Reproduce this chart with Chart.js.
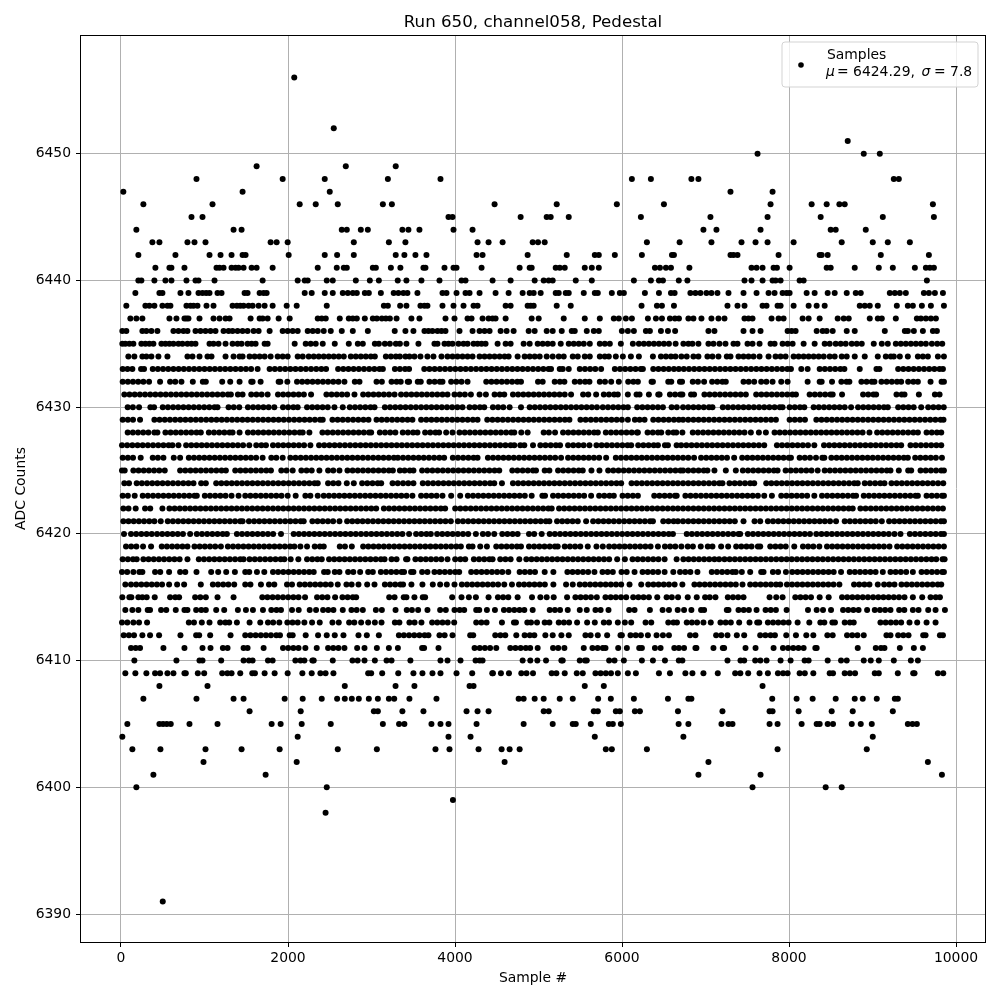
<!DOCTYPE html>
<html><head><meta charset="utf-8">
<style>html,body{margin:0;padding:0;background:#fff}canvas{display:block}</style>
<script src="https://cdn.jsdelivr.net/npm/chart.js@4"></script>
</head><body><canvas id="c" width="1000" height="1000"></canvas>
<script>
const xTicks=[0,2000,4000,6000,8000,10000];
const yTicks=[6390,6400,6410,6420,6430,6440,6450];
const r6456=[2075];
const r6452=[2548];
const r6451=[8703];
const r6450=[7623,8895,9087];
const r6449=[1624,2692,3290];
const r6448=[904,1936,2440,3196,3826,6118,6346,6831,6915,9255,9315];
const r6447=[28,1456,2500,7299,7803];
const r6446=[268,1096,2140,2332,2596,3136,3244,4474,5218,5938,6502,7779,8271,8451,8603,8667,9723];
const r6445=[844,976,3922,3970,4786,5098,5146,5362,6226,7059,7743,8379,9123,9735];
const r6444=[184,1348,1444,2644,2704,2872,2956,3370,3442,3574,3982,4210,6975,7131,7659,8499,8559,8919];
const r6443=[376,460,796,880,1012,1792,1864,1996,2788,3208,3406,4270,4402,4570,4930,4994,5074,6298,6690,7071,7431,7599,7743,8055,8631,9003,9183,9447];
const r6442=[208,652,1060,1192,1324,1456,1492,2008,2440,2588,2788,3290,3394,3526,3658,4258,4330,4870,5338,5674,5722,5914,6238,6598,6622,7299,7335,7383,7875,8367,8391,8463,9099,9675];
const r6441=[412,580,604,760,1144,1180,1228,1324,1372,1408,1468,1564,1624,1816,2356,2584,2668,2704,3016,3052,3232,3346,3622,3646,3874,3982,4018,4318,4774,4894,4918,5206,5254,5314,5554,5638,5722,6394,6454,6526,6586,6807,7551,7611,7683,7815,7855,8007,8451,8499,8787,9075,9243,9507,9639,9687,9735];
const r6440=[208,244,400,532,604,784,892,928,1120,1696,2116,2200,2236,2464,2536,2812,2980,3088,3314,3418,3598,3814,4078,4126,4450,4666,4954,5062,5122,5170,5446,5638,6142,6346,6442,6490,6680,6783,7467,7551,7683,7803,7839,7899,8127,8175,9651];
const r6439=[172,460,496,712,808,928,976,1020,1060,1156,1204,1480,1516,1660,1708,1744,2200,2284,2440,2536,2656,2716,2776,2824,2920,2968,3112,3266,3322,3382,3430,3550,3850,3898,4018,4126,4174,4294,4486,4642,4810,4894,4942,5026,5206,5242,5326,5362,5542,5674,5710,5878,5974,6022,6274,6442,6586,6630,6819,6879,6939,7011,7071,7143,7275,7455,7611,7755,7827,7923,7971,8007,8211,8307,8463,8547,8691,8799,8859,9207,9267,9327,9399,9615,9675,9747,9843];
const r6438=[64,292,340,400,496,556,592,784,832,868,916,1024,1108,1336,1388,1428,1468,1528,1576,1648,1720,1816,1984,2104,2464,3148,3196,3343,3418,3586,3634,3670,3850,3982,4102,4222,4270,4606,4666,4870,4906,4942,5218,5386,6234,6418,6478,6622,7263,7383,7467,7683,7731,7863,7899,8055,8235,8331,8427,8847,8907,8967,9063,9291,9423,9483,9591,9699,9855];
const r6437=[112,184,256,580,664,760,784,808,940,1108,1180,1252,1300,1552,1660,1696,1756,1888,2020,2356,2404,2452,2620,2728,2776,2824,2920,3016,3064,3124,3172,3220,3300,3478,3574,3886,3994,4150,4198,4330,4402,4450,4486,4606,4918,5002,5302,5554,5734,5902,5962,6046,6118,6310,6406,6478,6574,6634,6682,6795,6855,6951,7071,7155,7227,7467,7515,7563,7791,7875,7935,8163,8235,8367,8583,8655,8715,8967,9063,9111,9279,9531,9579,9639,9699,9759];
const r6436=[16,64,256,304,364,436,628,688,748,796,892,952,1012,1072,1132,1228,1288,1336,1396,1456,1516,1588,1648,1780,1936,1996,2056,2116,2236,2296,2356,2428,2512,2644,2776,2956,3278,3406,3502,3634,3682,3730,3790,3838,3886,4054,4210,4294,4354,4414,4546,4618,4702,4882,4954,5098,5170,5278,5398,5434,5578,5662,5722,5998,6070,6142,6286,6334,6466,6550,6636,7035,7107,7455,7563,7659,7983,8031,8079,8331,8403,8451,8523,8691,8787,9147,9387,9423,9495,9603,9723,9771];
const r6435=[16,52,100,148,244,292,340,388,484,532,580,628,688,736,796,844,892,1060,1108,1168,1252,1336,1396,1444,1516,1564,1612,1720,1756,2080,2212,2272,2332,2416,2560,2728,2836,2896,3040,3088,3160,3220,3292,3340,3418,3562,3754,3790,3874,3922,3970,4042,4102,4150,4222,4270,4318,4366,4510,4606,4666,4822,4894,4990,5050,5110,5170,5266,5362,5422,5482,5542,5614,5734,5794,5854,5986,6130,6202,6262,6322,6382,6442,6502,6562,6642,6735,6795,6843,6915,7035,7095,7167,7239,7335,7383,7503,7563,7647,7779,7827,7923,7983,8043,8175,8307,8427,8487,8559,8619,8679,8751,8811,8871,9015,9111,9183,9279,9339,9399,9459,9519,9579,9639,9711,9775,9835];
const r6434=[88,160,256,304,364,448,556,796,856,940,1036,1084,1252,1348,1420,1456,1540,1600,1660,1720,1792,1876,1936,1996,2116,2176,2248,2308,2368,2428,2488,2548,2608,2668,2752,2812,2872,2932,2992,3040,3172,3232,3292,3340,3406,3454,3514,3586,3670,3742,3838,3910,3970,4030,4090,4150,4210,4294,4354,4414,4474,4534,4594,4642,4750,4834,4894,4954,5014,5098,5170,5242,5302,5410,5470,5554,5614,5734,5794,5842,5926,6010,6106,6202,6370,6466,6526,6586,6640,6711,6775,6855,6915,7023,7083,7155,7255,7299,7395,7455,7515,7575,7647,7755,7839,7899,7959,8055,8115,8175,8235,8295,8355,8415,8487,8547,8631,8691,8787,8907,9063,9159,9219,9255,9327,9423,9543,9603,9663,9783,9855];
const r6433=[20,78,136,240,276,380,442,504,566,628,690,752,814,876,938,1000,1062,1124,1186,1248,1310,1372,1434,1496,1558,1636,1780,1842,1904,1966,2028,2090,2152,2214,2276,2338,2400,2456,2600,2662,2724,2786,2848,2910,2972,3034,3096,3136,3280,3340,3402,3450,3632,3694,3756,3818,3880,3942,4004,4066,4128,4190,4252,4314,4376,4438,4500,4562,4624,4686,4748,4810,4872,4934,4996,5058,5120,5150,5254,5290,5362,5494,5556,5618,5680,5750,5914,5976,6038,6100,6162,6224,6250,6374,6436,6498,6560,6622,6680,6740,6802,6864,6926,6988,7050,7112,7174,7236,7298,7360,7422,7484,7546,7608,7670,7732,7794,7856,7918,7980,8023,8147,8223,8367,8429,8491,8553,8615,8663,8847,9047,9083,9307,9369,9431,9493,9555,9617,9679,9741,9803,9843];
const r6432=[20,82,144,206,268,336,468,588,650,724,860,980,1016,1212,1308,1420,1560,1576,1672,1888,1908,1992,2108,2170,2232,2294,2356,2418,2480,2542,2604,2676,2800,2856,3060,3124,3240,3300,3350,3434,3450,3554,3590,3694,3756,3818,3850,3954,4016,4078,4150,4374,4436,4498,4560,4622,4684,4746,4790,4994,5050,5194,5256,5310,5434,5496,5558,5610,5734,5796,5870,5962,6074,6136,6190,6354,6370,6554,6590,6694,6719,6847,6909,6983,7079,7141,7203,7243,7455,7517,7583,7667,7729,7803,7907,7983,8223,8367,8391,8515,8627,8689,8723,8867,8929,8991,9023,9107,9169,9231,9293,9343,9427,9489,9543,9695,9827,9855];
const r6431=[40,102,164,226,288,350,412,474,536,598,660,722,784,846,908,970,1032,1094,1156,1218,1280,1316,1400,1456,1560,1622,1684,1756,1880,1942,2004,2066,2128,2190,2276,2460,2522,2584,2646,2708,2796,2900,2962,3024,3086,3148,3210,3276,3354,3416,3478,3540,3602,3664,3726,3788,3850,3910,3994,4056,4118,4190,4294,4370,4474,4536,4590,4694,4756,4818,4880,4942,5004,5066,5128,5190,5252,5314,5390,5534,5596,5690,5782,5844,5906,5950,6070,6174,6210,6322,6434,6450,6574,6636,6698,6723,6827,6863,6987,7049,7111,7173,7235,7297,7359,7421,7483,7607,7669,7731,7793,7855,7917,7979,8041,8083,8247,8309,8371,8433,8495,8523,8635,8887,8949,9011,9043,9287,9349,9383,9555,9747,9803];
const r6430=[80,142,216,352,396,500,562,624,686,748,810,872,934,996,1058,1120,1156,1288,1350,1416,1520,1582,1644,1706,1768,1836,1940,2002,2064,2116,2228,2290,2352,2414,2476,2556,2656,2740,2802,2864,2926,2988,3036,3160,3222,3284,3346,3408,3470,3532,3594,3656,3718,3780,3842,3904,3966,4028,4090,4174,4236,4298,4350,4454,4516,4578,4654,4790,4894,4956,5018,5080,5142,5204,5266,5328,5390,5452,5514,5576,5638,5700,5770,5832,5894,5956,6018,6070,6182,6244,6306,6368,6430,6490,6594,6656,6731,6793,6855,6917,6979,7041,7083,7207,7269,7331,7393,7455,7517,7579,7641,7703,7765,7827,7889,7923,8007,8069,8131,8183,8295,8357,8419,8481,8543,8605,8667,8743,8827,8889,8951,9013,9075,9137,9183,9307,9369,9431,9493,9583,9667,9729,9791,9853];
const r6429=[20,82,144,228,400,462,524,586,648,710,772,834,896,958,1020,1082,1144,1206,1268,1330,1392,1454,1516,1578,1640,1702,1764,1826,1888,1950,2012,2074,2136,2198,2260,2322,2384,2416,2532,2594,2656,2718,2780,2842,2904,2964,3060,3122,3184,3246,3308,3370,3432,3490,3594,3656,3718,3780,3842,3904,3966,4028,4090,4152,4214,4270,4386,4448,4510,4572,4634,4696,4758,4820,4882,4944,5006,5068,5130,5192,5254,5316,5370,5502,5564,5626,5688,5750,5812,5874,5936,5998,6070,6154,6210,6270,6374,6436,6498,6560,6622,6680,6731,6793,6855,6917,6979,7041,7103,7165,7227,7289,7351,7413,7475,7537,7599,7661,7723,7785,7843,8007,8069,8131,8191,8327,8389,8451,8513,8575,8637,8699,8761,8823,8885,8947,9009,9071,9133,9195,9257,9319,9381,9443,9505,9567,9629,9691,9753,9815,9850];
const r6428=[80,142,204,266,328,400,436,532,594,656,718,780,842,904,956,1052,1114,1176,1238,1300,1336,1420,1520,1582,1644,1706,1768,1830,1892,1954,2016,2078,2140,2176,2256,2412,2474,2536,2598,2660,2722,2784,2846,2908,2970,2996,3100,3162,3224,3286,3374,3436,3498,3550,3642,3704,3766,3810,3894,3970,4054,4116,4178,4240,4302,4364,4426,4488,4550,4612,4674,4710,4794,4870,5062,5124,5198,5294,5356,5418,5480,5542,5604,5666,5710,5806,5868,5930,5992,6054,6116,6178,6190,6306,6368,6430,6470,6554,6616,6650,6723,6847,6909,6971,7033,7095,7157,7219,7281,7343,7405,7467,7543,7639,7723,7827,7889,7951,8013,8075,8137,8199,8261,8323,8385,8447,8509,8571,8633,8695,8757,8819,8881,8963,9055,9117,9179,9241,9303,9365,9427,9489,9543,9647,9709,9771,9823];
const r6427=[12,74,136,198,260,322,384,446,508,570,616,688,780,842,904,966,1028,1090,1152,1214,1276,1338,1400,1462,1536,1620,1682,1736,1820,1882,1944,2006,2068,2130,2192,2268,2372,2434,2496,2558,2620,2682,2744,2806,2868,2930,2992,3054,3116,3178,3240,3302,3364,3426,3488,3550,3612,3674,3736,3798,3860,3922,3984,4046,4108,4170,4232,4294,4356,4418,4480,4542,4604,4666,4710,4782,4830,4934,5022,5084,5146,5208,5258,5354,5416,5478,5540,5610,5694,5756,5818,5880,5942,6004,6066,6110,6194,6256,6318,6380,6430,6514,6550,6654,6709,6771,6833,6895,6957,7019,7081,7143,7205,7267,7329,7391,7453,7515,7577,7639,7703,7855,7917,7979,8041,8103,8165,8227,8303,8419,8481,8543,8605,8667,8729,8791,8853,8915,8977,9039,9101,9163,9225,9287,9343,9455,9517,9579,9641,9703,9765,9823];
const r6426=[20,82,144,236,380,442,508,632,708,812,874,936,998,1060,1122,1184,1246,1308,1370,1432,1494,1556,1618,1696,1800,1860,1936,2028,2090,2152,2214,2276,2338,2400,2462,2524,2586,2648,2710,2772,2834,2896,2958,3020,3082,3144,3206,3268,3316,3378,3440,3502,3564,3626,3688,3750,3812,3870,3974,4036,4098,4160,4222,4270,4394,4456,4518,4580,4642,4704,4766,4828,4890,4952,5014,5076,5138,5200,5270,5354,5416,5478,5540,5602,5664,5726,5810,5926,5988,6050,6112,6174,6236,6298,6360,6422,6484,6546,6608,6669,6731,6793,6863,6947,7009,7071,7133,7195,7257,7343,7439,7501,7563,7625,7687,7749,7811,7873,7935,7997,8023,8127,8189,8251,8323,8399,8423,8507,8569,8631,8693,8755,8817,8879,8941,9003,9065,9127,9189,9251,9313,9375,9423,9511,9573,9635,9697,9759,9831];
const r6425=[12,44,148,210,272,334,396,458,524,708,770,832,894,956,1018,1080,1142,1204,1256,1368,1430,1492,1554,1616,1678,1740,1796,1920,1982,2056,2160,2222,2284,2376,2480,2542,2616,2712,2774,2836,2898,2960,3022,3084,3146,3208,3256,3340,3396,3458,3502,3606,3668,3730,3792,3854,3916,3978,4040,4102,4164,4226,4288,4350,4412,4474,4530,4686,4748,4810,4872,4934,4970,5074,5130,5234,5296,5358,5420,5482,5530,5634,5730,5834,5896,5958,6020,6082,6144,6206,6268,6330,6392,6454,6516,6578,6640,6700,6731,6793,6855,6917,6979,7023,7107,7243,7363,7447,7509,7571,7633,7695,7757,7819,7863,7959,8021,8083,8145,8207,8269,8343,8427,8489,8551,8613,8675,8737,8799,8861,8923,8985,9047,9109,9171,9215,9315,9427,9463,9575,9637,9699,9761,9823,9855];
const r6424=[40,96,188,250,312,374,436,498,560,622,684,746,808,868,960,1016,1140,1202,1264,1326,1388,1450,1512,1574,1636,1698,1760,1822,1884,1946,2008,2070,2132,2194,2256,2318,2356,2480,2542,2604,2704,2788,2888,2950,3012,3074,3116,3252,3314,3378,3440,3502,3614,3676,3738,3800,3862,3924,3986,4048,4110,4172,4234,4296,4358,4420,4470,4562,4694,4756,4818,4880,4942,5004,5066,5128,5190,5252,5314,5376,5438,5500,5562,5624,5686,5748,5810,5872,5934,5990,6114,6176,6238,6300,6362,6424,6486,6548,6610,6669,6731,6793,6855,6917,6979,7041,7103,7165,7203,7287,7349,7411,7473,7535,7583,7727,7789,7851,7913,7975,8037,8099,8161,8223,8285,8347,8409,8471,8533,8595,8657,8719,8781,8823,8907,8969,9031,9093,9143,9227,9289,9351,9413,9475,9537,9599,9661,9723,9785,9847];
const r6423=[20,82,164,260,322,384,446,508,570,632,694,756,818,880,908,1004,1066,1128,1190,1252,1324,1408,1488,1550,1612,1674,1736,1798,1860,1922,1996,2092,2208,2268,2356,2428,2490,2552,2614,2676,2738,2800,2862,2924,2986,3048,3110,3172,3234,3296,3358,3420,3490,3594,3656,3718,3780,3850,3954,4062,4154,4216,4278,4340,4402,4464,4526,4588,4650,4712,4774,4836,4918,5046,5078,5174,5236,5298,5360,5422,5484,5546,5630,5726,5788,5850,5902,6006,6068,6130,6190,6386,6448,6510,6572,6634,6655,6759,6821,6883,6945,7007,7069,7131,7193,7255,7317,7379,7441,7503,7565,7627,7703,7795,7907,7969,8031,8093,8155,8217,8303,8395,8457,8519,8581,8643,8705,8767,8803,8895,8957,9019,9081,9143,9205,9267,9329,9391,9453,9515,9543,9647,9709,9771,9833,9855];
const r6422=[28,90,176,288,350,496,580,642,704,766,828,890,952,1014,1076,1138,1200,1262,1324,1386,1448,1510,1572,1634,1696,1758,1820,1882,1944,2006,2068,2130,2192,2254,2316,2378,2440,2502,2564,2626,2688,2750,2812,2874,2936,2998,3056,3148,3210,3272,3334,3396,3458,3520,3582,3644,3706,3768,3830,3882,4002,4064,4126,4188,4250,4312,4374,4436,4498,4560,4622,4684,4746,4808,4870,4932,4994,5056,5118,5158,5246,5308,5370,5432,5494,5556,5618,5680,5742,5804,5866,5928,5990,6052,6114,6176,6238,6300,6362,6424,6486,6548,6610,6669,6731,6793,6855,6917,6979,7041,7103,7165,7227,7289,7351,7413,7475,7537,7599,7661,7723,7785,7847,7909,7971,8033,8095,8157,8219,8281,8343,8405,8467,8529,8591,8653,8715,8763,8855,8917,8979,9041,9103,9165,9227,9289,9351,9413,9475,9537,9599,9661,9723,9785,9843];
const r6421=[28,90,152,214,276,338,400,476,560,622,684,746,808,870,932,994,1056,1118,1180,1242,1304,1366,1428,1456,1532,1594,1656,1718,1780,1842,1904,1966,2028,2090,2152,2188,2292,2354,2416,2478,2540,2616,2708,2770,2832,2894,2956,3018,3080,3142,3204,3266,3328,3390,3452,3514,3576,3638,3700,3762,3824,3886,3950,4034,4096,4158,4220,4282,4344,4406,4468,4530,4592,4654,4716,4778,4840,4902,4964,5026,5088,5130,5222,5284,5346,5408,5470,5570,5654,5716,5778,5840,5902,5964,6026,6088,6150,6212,6274,6336,6370,6494,6556,6618,6669,6731,6793,6855,6917,6979,7041,7103,7165,7227,7289,7351,7455,7587,7655,7747,7809,7871,7933,7995,8057,8119,8181,8243,8305,8367,8429,8491,8563,8667,8729,8791,8853,8915,8977,9039,9111,9199,9261,9323,9385,9447,9509,9571,9633,9695,9757,9819,9855];
const r6420=[36,120,182,244,306,368,432,494,556,618,680,742,828,908,970,1032,1094,1156,1218,1268,1388,1450,1512,1574,1636,1698,1760,1822,1916,2068,2130,2192,2254,2316,2378,2440,2502,2564,2626,2688,2750,2812,2874,2936,2998,3060,3122,3184,3246,3308,3370,3450,3534,3596,3658,3710,3786,3848,3910,3972,4034,4096,4158,4250,4334,4396,4470,4566,4628,4690,4750,4886,4948,5038,5134,5196,5258,5320,5382,5444,5506,5568,5630,5692,5754,5816,5878,5940,6002,6064,6126,6188,6250,6312,6374,6436,6498,6560,6610,6775,6837,6899,6961,7023,7085,7147,7209,7271,7333,7395,7415,7507,7569,7631,7693,7755,7817,7879,7941,8003,8065,8127,8189,8251,8327,8389,8451,8513,8575,8637,8699,8761,8823,8885,8947,9009,9071,9133,9195,9263,9335,9447,9509,9571,9633,9695,9757,9819,9855];
const r6419=[60,122,184,264,360,488,550,612,674,736,796,880,942,1004,1066,1128,1196,1280,1342,1404,1466,1528,1590,1652,1714,1776,1838,1900,1962,2024,2076,2148,2228,2320,2382,2428,2620,2682,2764,2900,2962,3024,3086,3148,3210,3272,3334,3396,3458,3520,3582,3644,3706,3768,3830,3892,3954,4016,4070,4166,4210,4302,4382,4494,4556,4618,4680,4742,4790,4886,4948,5010,5072,5134,5196,5230,5314,5376,5438,5500,5590,5694,5770,5846,5908,5970,6032,6094,6156,6218,6280,6342,6430,6514,6576,6638,6711,6787,6849,6943,7027,7083,7187,7271,7367,7429,7491,7551,7627,7655,7775,7837,7899,7961,8063,8167,8229,8291,8363,8455,8517,8579,8641,8703,8765,8827,8889,8951,9013,9075,9137,9203,9295,9357,9419,9481,9543,9605,9667,9729,9791,9855];
const r6418=[20,82,144,188,268,330,392,454,516,578,640,702,796,932,994,1056,1118,1180,1242,1304,1366,1428,1468,1540,1602,1664,1726,1788,1850,1912,1956,2032,2124,2228,2290,2352,2404,2492,2554,2616,2678,2740,2802,2864,2926,2988,3050,3112,3156,3240,3300,3414,3430,3526,3588,3650,3712,3774,3836,3910,4002,4064,4122,4226,4288,4350,4412,4450,4542,4604,4666,4770,4854,4916,4978,5040,5102,5164,5226,5288,5350,5412,5474,5536,5598,5660,5722,5784,5846,5942,6034,6126,6188,6250,6312,6374,6436,6510,6654,6735,6797,6859,6921,6983,7045,7107,7163,7227,7289,7351,7413,7475,7537,7599,7661,7723,7785,7847,7909,7971,8033,8095,8157,8219,8281,8343,8405,8467,8529,8591,8653,8715,8777,8839,8901,8963,9025,9087,9149,9211,9273,9335,9397,9459,9521,9583,9645,9707,9763,9839,9863];
const r6417=[12,74,148,220,256,408,470,576,708,770,904,1080,1164,1260,1364,1488,1536,1628,1716,1820,1882,1944,2006,2068,2130,2192,2254,2308,2432,2476,2560,2616,2720,2782,2864,2960,3016,3112,3174,3236,3298,3360,3390,3474,3502,3606,3670,3754,3816,3878,3940,4002,4050,4194,4256,4318,4380,4442,4504,4566,4638,4774,4836,4898,4958,5074,5178,5346,5408,5470,5532,5594,5670,5766,5828,5890,5994,6056,6150,6246,6308,6370,6432,6510,6614,6695,6757,6819,6903,7075,7137,7199,7261,7323,7363,7435,7535,7667,7695,7807,7869,7963,8039,8101,8163,8225,8287,8349,8411,8473,8535,8623,8727,8789,8851,8913,8975,9037,9123,9215,9277,9339,9403,9483,9587,9649,9711,9773,9835,9855];
const r6416=[52,120,182,244,306,368,430,492,576,672,756,956,1100,1162,1224,1286,1356,1488,1550,1676,1772,1836,1988,2048,2140,2202,2264,2326,2388,2450,2512,2596,2700,2762,2844,2948,3036,3160,3222,3284,3346,3378,3478,3610,3734,3822,3902,3994,4082,4144,4206,4268,4330,4392,4454,4516,4590,4682,4766,4828,4890,4952,5014,5076,5178,5330,5410,5494,5556,5618,5680,5742,5804,5866,5928,5990,6090,6230,6314,6376,6438,6500,6562,6630,6723,6867,6929,6991,7053,7115,7177,7239,7301,7363,7443,7535,7597,7659,7721,7783,7845,7895,7975,8037,8099,8161,8223,8285,8347,8409,8471,8533,8603,8779,8841,8903,8963,9063,9139,9201,9263,9347,9409,9471,9533,9595,9657,9719,9781,9823];
const r6415=[16,100,124,208,256,308,404,588,650,696,888,950,1016,1156,1348,1692,1754,1816,1878,1940,2002,2064,2126,2204,2348,2410,2472,2564,2652,2714,2776,2816,3212,3276,3386,3418,3514,3614,3642,3966,4078,4166,4250,4402,4514,4576,4638,4750,4922,5022,5098,5182,5342,5442,5504,5566,5628,5698,5802,5864,5926,5988,6050,6134,6196,6258,6322,6422,6534,6596,6671,6787,6895,6995,7051,7119,7267,7329,7391,7455,7767,7847,7923,8075,8137,8199,8263,8367,8475,8635,8697,8759,8821,8883,8945,9007,9069,9131,9193,9255,9317,9383,9483,9595,9695,9757,9807];
const r6414=[52,136,208,320,348,480,542,656,760,796,900,962,1016,1140,1236,1400,1496,1580,1700,1800,1862,1916,2048,2128,2260,2336,2420,2482,2544,2656,2760,2822,2896,3052,3124,3288,3422,3484,3558,3670,3822,3890,3994,4056,4110,4254,4290,4382,4478,4586,4648,4710,4772,4830,4930,5134,5196,5258,5350,5494,5578,5682,5744,5838,6086,6150,6334,6486,6562,6667,6743,6831,6947,6983,7255,7275,7395,7457,7519,7611,7719,7781,7843,7971,8227,8331,8407,8503,8647,8709,8771,8833,8935,9027,9089,9151,9215,9319,9381,9483,9551,9667,9755,9867];
const r6413=[12,76,148,216,312,812,874,968,1060,1188,1250,1296,1388,1540,1668,1760,1822,1896,1992,2054,2116,2196,2288,2380,2532,2608,2732,2794,2876,2960,3040,3120,3280,3334,3454,3516,3598,3726,3788,3850,3912,3990,4254,4316,4378,4562,4706,4730,4866,4910,4982,5074,5130,5242,5304,5366,5462,5582,5674,5782,5844,5950,6034,6110,6282,6350,6554,6616,6658,6775,6837,6899,6975,7063,7179,7241,7303,7403,7527,7619,7643,7747,7809,7871,7933,7995,8103,8243,8375,8423,8519,8550,8667,8729,8775,9095,9157,9219,9281,9343,9443,9535,9647,9755];
const r6412=[32,94,156,256,348,456,712,900,936,1068,1312,1488,1550,1612,1674,1736,1796,1860,1904,2020,2056,2212,2360,2464,2560,2664,2844,2944,3088,3328,3388,3450,3512,3574,3636,3682,3814,3876,3970,4182,4218,4482,4544,4602,4734,4834,4896,4950,5082,5170,5274,5362,5562,5624,5710,5822,5982,5998,6102,6164,6226,6310,6414,6490,6562,6815,6879,7127,7189,7263,7375,7463,7655,7717,7779,7831,7967,8083,8207,8291,8459,8523,8695,8757,8819,8895,9167,9215,9307,9369,9431,9607,9635,9807,9843];
const r6411=[120,176,228,508,760,976,1072,1220,1276,1468,1516,1708,1940,2002,2064,2126,2208,2344,2480,2542,2604,2676,2828,2916,3064,3208,3316,3606,3630,3802,4234,4296,4358,4420,4494,4662,4724,4786,4848,4900,4990,5174,5236,5310,5542,5646,5708,5770,5802,5954,6058,6206,6238,6394,6462,6626,6681,6743,6879,6891,7095,7207,7223,7479,7599,7815,7927,7989,8051,8113,8175,8315,8331,8823,9039,9101,9143,9327,9495,9603];
const r6410=[160,664,940,976,1200,1468,1532,1576,1760,1816,2088,2150,2196,2292,2308,2536,2772,2834,2916,3040,3180,3240,3466,3826,3910,4066,4246,4296,4330,4810,4902,4986,5090,5274,5290,5494,5556,5578,5846,5910,6022,6238,6370,6514,6680,6723,7263,7419,7463,7595,7657,7731,7899,8019,8187,8235,8463,8623,8691,8895,8979,9075,9255,9459,9543];
const r6409=[52,172,304,408,468,556,628,760,776,920,996,1212,1274,1324,1428,1572,1604,1720,1840,1996,2172,2284,2388,2450,2544,2960,2996,3128,3320,3502,3610,3730,3826,4018,4206,4446,4454,4550,4646,4794,4856,4934,5158,5214,5314,5458,5530,5682,5744,5806,5868,5950,6070,6166,6442,6574,6759,6843,6975,7147,7355,7417,7511,7647,7747,7867,7929,7983,8127,8189,8291,8487,8527,8667,8729,8791,9027,9075,9303,9487,9503,9783,9847];
const r6408=[460,1036,2680,3288,3514,4174,4222,5554,5782,7683];
const r6407=[268,904,1348,1468,1960,2176,2404,2588,2680,2764,2848,2968,3076,3208,3272,3454,3778,4762,4822,4954,5062,5254,5410,5714,5866,6142,6550,6795,6831,7799,8091,8283,8559,8787,8883,9051,9267,9303];
const r6406=[1540,2152,3028,3076,3370,3622,4138,4270,4402,5062,5122,5662,5710,5926,5974,6154,6214,6670,7203,7767,7803,8115,8511,8763,9243];
const r6405=[76,460,504,548,596,820,1156,1804,1912,2164,2512,3136,3330,3394,3718,3826,3922,4258,4822,5170,5410,5446,5626,5842,5890,5986,6678,6795,7191,7275,7323,7767,7863,8151,8331,8367,8463,8527,8751,8859,8991,9423,9479,9531];
const r6404=[16,2116,3922,4186,5674,6735,9003];
const r6403=[136,472,1012,1444,1900,2596,3064,3766,3934,4282,4558,4654,4774,5806,5878,6298,7863,8931];
const r6402=[988,2104,4594,7035,9663];
const r6401=[388,1732,6915,7659,9831];
const r6400=[184,2464,7563,8439,8631];
const r6399=[3975];
const r6398=[2450];
const r6391=[500];
const rowLevels=[6456,6452,6451,6450,6449,6448,6447,6446,6445,6444,6443,6442,6441,6440,6439,6438,6437,6436,6435,6434,6433,6432,6431,6430,6429,6428,6427,6426,6425,6424,6423,6422,6421,6420,6419,6418,6417,6416,6415,6414,6413,6412,6411,6410,6409,6408,6407,6406,6405,6404,6403,6402,6401,6400,6399,6398,6391];
const rowSamples=[r6456,r6452,r6451,r6450,r6449,r6448,r6447,r6446,r6445,r6444,r6443,r6442,r6441,r6440,r6439,r6438,r6437,r6436,r6435,r6434,r6433,r6432,r6431,r6430,r6429,r6428,r6427,r6426,r6425,r6424,r6423,r6422,r6421,r6420,r6419,r6418,r6417,r6416,r6415,r6414,r6413,r6412,r6411,r6410,r6409,r6408,r6407,r6406,r6405,r6404,r6403,r6402,r6401,r6400,r6399,r6398,r6391];
const points=[];
rowLevels.forEach((lv,i)=>rowSamples[i].forEach(x=>points.push({x:x,y:lv})));
const F='"DejaVu Sans"';
const frameAndLegend={id:'frameAndLegend',afterDraw(ch){
  const c=ch.ctx,a=ch.chartArea;c.save();
  c.strokeStyle='#000';c.lineWidth=1;c.strokeRect(Math.round(a.left)-.5,Math.round(a.top)+.5,Math.round(a.right-a.left)+1,Math.round(a.bottom-a.top));
  c.beginPath();c.roundRect(782,42,196,45,3);c.fillStyle='rgba(255,255,255,.8)';c.fill();c.strokeStyle='#d3d3d3';c.lineWidth=1;c.stroke();
  c.fillStyle='#000';c.beginPath();c.arc(801,65,2.8,0,7);c.fill();
  c.textBaseline='alphabetic';c.textAlign='left';
  c.font='13.9px '+F;c.fillText('Samples',827,59);
  const y=76;
  c.font='oblique 13.9px '+F;c.fillText('μ',826,y);
  c.font='13.9px '+F;c.fillText('= 6424.29,',837,y);
  c.font='oblique 13.9px '+F;c.fillText('σ',921.5,y);
  c.font='13.9px '+F;c.fillText('= 7.8',934,y);
  c.restore();
}};
new Chart(document.getElementById('c'),{type:'scatter',
 data:{datasets:[{label:'Samples',data:points,pointRadius:3,pointBorderWidth:0,pointBackgroundColor:'#000',showLine:false}]},
 options:{responsive:false,animation:false,events:[],
  layout:{padding:{left:0,right:15,top:0,bottom:0}},
  plugins:{legend:{display:false},tooltip:{enabled:false},
   title:{display:true,fullSize:false,text:'Run 650, channel058, Pedestal',color:'#000',font:{family:F,size:16.67,weight:'normal'},padding:{top:13,bottom:2}}},
  scales:{
   x:{type:'linear',min:-479,max:10347,afterFit(s){s.height=58;},
      afterBuildTicks(s){s.ticks=xTicks.map(v=>({value:v}));},
      grid:{color:'#b0b0b0',lineWidth:1,tickColor:'#000',tickLength:5,drawTicks:true},border:{display:false},
      ticks:{color:'#000',font:{family:F,size:13.9},padding:3,maxRotation:0,callback:v=>String(v)},
      title:{display:true,text:'Sample #',color:'#000',font:{family:F,size:13.9},padding:{top:0,bottom:13}}},
   y:{type:'linear',min:6387.8,max:6459.36,afterFit(s){s.width=81;},
      afterBuildTicks(s){s.ticks=yTicks.map(v=>({value:v}));},
      grid:{color:'#b0b0b0',lineWidth:1,tickColor:'#000',tickLength:5,drawTicks:true},border:{display:false},
      ticks:{color:'#000',font:{family:F,size:13.9},padding:5,callback:v=>String(v)},
      title:{display:true,text:'ADC Counts',color:'#000',font:{family:F,size:13.9},padding:{top:13,bottom:0}}}
  }},
 plugins:[frameAndLegend]});
</script></body></html>
